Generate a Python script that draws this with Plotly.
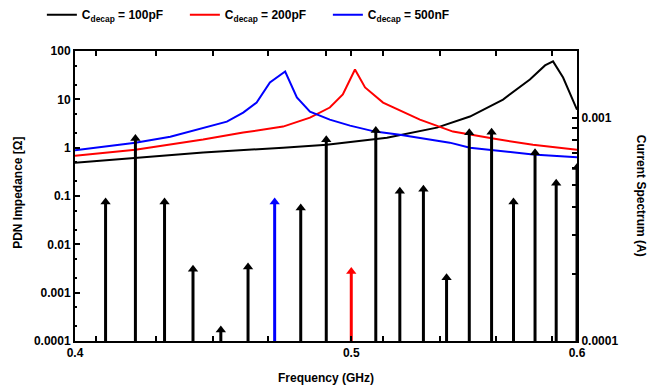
import plotly.graph_objects as go

# ---- impedance curves (left axis, Ohm) ----
f_100p = [0.400, 0.4436, 0.4732, 0.4902, 0.5146, 0.5358, 0.5503, 0.5652, 0.5776, 0.5847, 0.5885, 0.5933, 0.600]
z_100p = [0.49, 0.79, 1.0, 1.15, 1.61, 2.60, 4.40, 9.9, 25.7, 50.3, 60.9, 28.3, 6.1]

f_200p = [0.400, 0.420, 0.4436, 0.4582, 0.4732, 0.4836, 0.4914, 0.4966, 0.5015, 0.5056, 0.513, 0.5285, 0.5428, 0.5607, 0.579, 0.600]
z_200p = [0.68, 0.91, 1.47, 2.05, 2.73, 4.19, 6.76, 12.6, 41.5, 17.6, 8.58, 3.81, 2.15, 1.54, 1.15, 0.91]

f_500n = [0.400, 0.420, 0.432, 0.4436, 0.4522, 0.4582, 0.4632, 0.4682, 0.474, 0.4785, 0.4836, 0.4914, 0.4995, 0.5097, 0.520, 0.5414, 0.5503, 0.579, 0.600]
z_500n = [0.88, 1.27, 1.69, 2.60, 3.46, 5.32, 8.58, 22.3, 37.7, 10.9, 5.58, 3.81, 2.86, 2.15, 1.86, 1.27, 1.0, 0.72, 0.63]

# ---- current spectrum (right axis, A) ----
harm_f = [0.41, 0.42, 0.43, 0.44, 0.45, 0.46, 0.47, 0.48, 0.49, 0.50,
          0.51, 0.52, 0.53, 0.54, 0.55, 0.56, 0.57, 0.58, 0.59, 0.60]
harm_i = [4.2e-4, 8.1e-4, 4.2e-4, 2.1e-4, 1.12e-4, 2.15e-4, 4.2e-4, 3.95e-4, 8.0e-4, 2.05e-4,
          8.8e-4, 4.7e-4, 4.8e-4, 1.92e-4, 8.6e-4, 8.65e-4, 4.2e-4, 7.0e-4, 5.1e-4, 6.0e-4]
harm_color = ["black"] * 6 + ["blue"] + ["black"] * 2 + ["red"] + ["black"] * 10

legend_names = ["C<sub>decap</sub> = 100pF", "C<sub>decap</sub> = 200pF", "C<sub>decap</sub> = 500nF"]

x_labels = [0.4, 0.5, 0.6]
x_minor = [0.407, 0.427, 0.447, 0.4675, 0.490, 0.513, 0.537, 0.562, 0.588]
yl_ticks = [1e-4, 1e-3, 1e-2, 1e-1, 1, 10, 100]
yl_text = ["0.0001", "0.001", "0.01", "0.1", "1", "10", "100"]
yr_ticks = [1e-4, 2e-4, 3e-4, 4e-4, 5e-4, 6e-4, 7e-4, 8e-4, 9e-4, 1e-3, 2e-3]
yr_text = ["0.0001", "", "", "", "", "", "", "", "", "0.001", ""]

FONT = dict(family="Liberation Sans, Arial, sans-serif", size=12, color="black", weight="bold")

x_tickvals = x_labels + x_minor
x_ticktext = ["0.4", "0.5", "0.6"] + [""] * len(x_minor)

fig = go.Figure()
for fx, zy, col, nm in [(f_100p, z_100p, "black", legend_names[0]),
                        (f_200p, z_200p, "red", legend_names[1]),
                        (f_500n, z_500n, "blue", legend_names[2])]:
    fig.add_trace(go.Scatter(x=fx, y=zy, mode="lines", name=nm,
                             line=dict(color=col, width=2), yaxis="y"))

for col in ["black", "blue", "red"]:
    xs, ys, mx, my = [], [], [], []
    for f, i, c in zip(harm_f, harm_i, harm_color):
        if c != col:
            continue
        xs += [f, f, None]
        ys += [1e-4, i, None]
        mx.append(f)
        my.append(i)
    fig.add_trace(go.Scatter(x=xs, y=ys, mode="lines", yaxis="y2", showlegend=False,
                             line=dict(color=col, width=3), hoverinfo="skip"))
    fig.add_trace(go.Scatter(x=mx, y=my, mode="markers", yaxis="y2", showlegend=False,
                             marker=dict(symbol="triangle-up", size=9, color=col)))

fig.update_layout(
    width=649, height=390,
    margin=dict(l=75, r=72, t=51, b=49, autoexpand=False),
    plot_bgcolor="white", paper_bgcolor="white",
    font=FONT,
    showlegend=True,
    legend=dict(orientation="h", x=-0.066, xanchor="left", y=1.125, yanchor="middle",
                font=FONT, bgcolor="rgba(0,0,0,0)", itemwidth=30, entrywidth=98),
    xaxis=dict(type="log", range=[-0.39794, -0.22185], tickvals=x_tickvals,
               ticktext=x_ticktext, ticks="inside", ticklen=5, tickwidth=2, tickcolor="black",
               showgrid=False, zeroline=False,
               showline=True, linecolor="black", linewidth=2, mirror="ticks",
               tickfont=FONT, automargin=False),
    yaxis=dict(type="log", range=[-4, 2], tickvals=yl_ticks, ticktext=yl_text,
               ticks="inside", ticklen=5, tickwidth=1.5, tickcolor="black",
               showgrid=False, zeroline=False, showline=True, linecolor="black",
               linewidth=2, mirror=False,
               minor=dict(ticks="inside", ticklen=2, tickcolor="black", showgrid=False),
               tickfont=FONT, automargin=False),
    yaxis2=dict(type="log", range=[-4, -2.69897], overlaying="y", side="right",
                tickvals=yr_ticks, ticktext=yr_text, ticks="inside", ticklen=5,
                tickwidth=1.5, tickcolor="black", showgrid=False, zeroline=False,
                showline=True, linecolor="black", linewidth=2,
                tickfont=FONT, automargin=False),
    annotations=[
        dict(text="PDN Impedance [Ω]", xref="paper", yref="paper", x=-0.114, y=0.51,
             textangle=-90, showarrow=False, font=FONT, xanchor="center", yanchor="middle"),
        dict(text="Current Spectrum (A)", xref="paper", yref="paper", x=1.128, y=0.5,
             textangle=90, showarrow=False, font=FONT, xanchor="center", yanchor="middle"),
        dict(text="Frequency (GHz)", xref="paper", yref="paper", x=0.5, y=-0.128,
             showarrow=False, font=FONT, xanchor="center", yanchor="middle"),
    ],
)

fig.write_html("out.html", config={"displayModeBar": False},
               post_script="document.body.style.margin='0';document.body.style.overflow='hidden';")
